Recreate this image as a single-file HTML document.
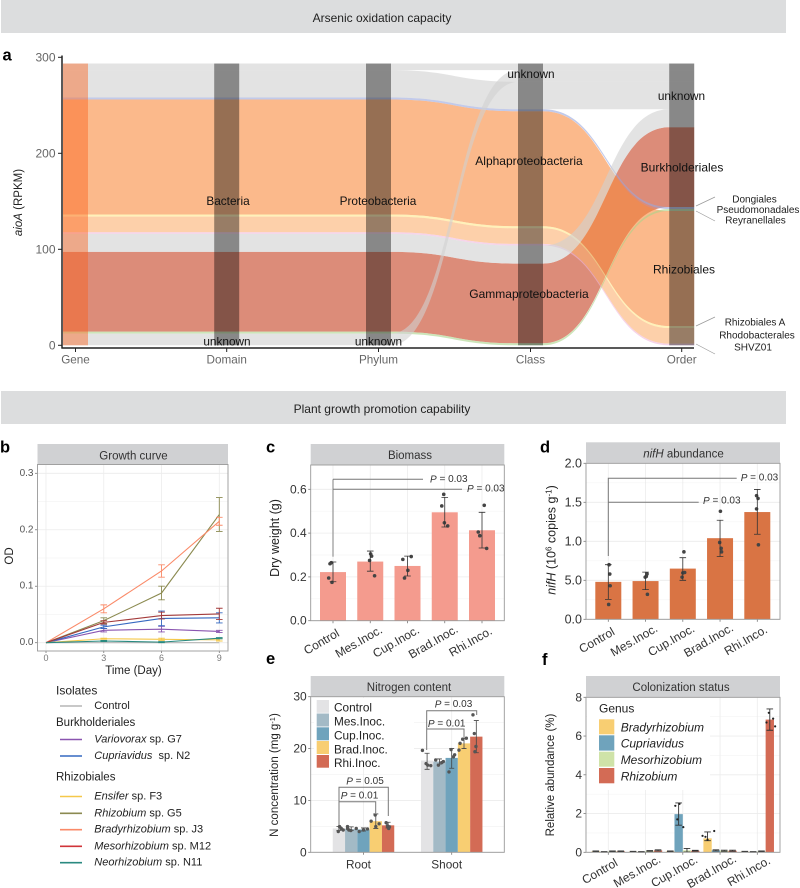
<!DOCTYPE html>
<html lang="en">
<head>
<meta charset="utf-8">
<title>Arsenic oxidation and plant growth promotion</title>
<style>
html,body{margin:0;padding:0;background:#fff;width:800px;height:888px;overflow:hidden}
svg{display:block;font-family:"Liberation Sans",sans-serif}
text{dominant-baseline:central;fill:#222;font-size:11.5px}
.ptxt{font-size:10px;fill:#333}
.leg{font-size:11px;fill:#222}
.legh{font-size:11.5px;fill:#222}
.strip{font-size:11.5px;fill:#333;text-anchor:middle}
.lab{font-size:16.5px;font-weight:bold;fill:#000;dominant-baseline:auto}
.bl{stroke:#777;stroke-width:1;fill:none}
.sk{text-anchor:middle;font-size:11.8px;fill:#111}
.skb{text-anchor:middle;font-size:12px;fill:#111}
.skr{text-anchor:middle;font-size:10px;fill:#222}
i,.it{font-style:italic}
</style>
</head>
<body>
<svg id="fig" xmlns="http://www.w3.org/2000/svg" width="800" height="888" viewBox="0 0 800 888">
  <rect x="0" y="0" width="800" height="888" fill="#fff"/>

  <g>
    <rect x="1" y="0" width="785" height="33" fill="#dcddde"/>
    <text x="382" y="18" text-anchor="middle" style="font-size:12px">Arsenic oxidation capacity</text>
  </g>
  <g>
    <rect x="1" y="391" width="785" height="33" fill="#dcddde"/>
    <text x="382" y="409" text-anchor="middle" style="font-size:12px">Plant growth promotion capability</text>
  </g>

  <text class="lab" x="2.5" y="60.5">a</text>
  <text class="lab" x="0" y="452.5">b</text>
  <text class="lab" x="266" y="452.5">c</text>
  <text class="lab" x="540" y="452.5">d</text>
  <text class="lab" x="266" y="664">e</text>
  <text class="lab" x="542" y="665">f</text>

  <!-- Panel a -->
  <g id="a-flows"></g>
  <g id="a-strata"></g>
  <g id="a-axes"></g>
  <text x="19" y="202.5" text-anchor="middle" transform="rotate(-90 19 202.5)" fill="#333"><tspan class="it">aioA</tspan> (RPKM)</text>
  <g>
    <text class="sk" x="228" y="201">Bacteria</text>
    <text class="sk" x="378" y="201">Proteobacteria</text>
    <text class="sk" x="227" y="341.5">unknown</text>
    <text class="sk" x="378.5" y="341.5">unknown</text>
    <text class="sk" x="531" y="74">unknown</text>
    <text class="sk" x="681.5" y="96">unknown</text>
    <text class="skb" x="529" y="161">Alphaproteobacteria</text>
    <text class="skb" x="529" y="294">Gammaproteobacteria</text>
    <text class="skb" x="682" y="167.5">Burkholderiales</text>
    <text class="skb" x="684" y="269.5">Rhizobiales</text>
    <text class="skr" x="754.5" y="200">Dongiales</text>
    <text class="skr" x="758" y="210.5">Pseudomonadales</text>
    <text class="skr" x="755.5" y="221">Reyranellales</text>
    <text class="skr" x="755" y="323">Rhizobiales A</text>
    <text class="skr" x="757" y="336">Rhodobacterales</text>
    <text class="skr" x="753" y="348">SHVZ01</text>
    <path d="M696 206L715 197M696 211L715 221M696 326L715 317M696 344L715 354" stroke="#999" stroke-width=".7" fill="none"/>
  </g>

  <!-- Panel b -->
  <g id="b-panel"></g>
  <text class="strip" x="133.5" y="456.5">Growth curve</text>
  <text x="10" y="556" text-anchor="middle" transform="rotate(-90 10 556)">OD</text>
  <text x="133.5" y="671" text-anchor="middle">Time (Day)</text>
  <g>
    <text class="legh" x="56" y="690.5" style="font-size:12px">Isolates</text>
    <line x1="60" x2="82" y1="706" y2="706" stroke="#b5b5b5" stroke-width="1.6"/>
    <text class="leg" x="94.3" y="706">Control</text>
    <text class="legh" x="56" y="723">Burkholderiales</text>
    <line x1="60" x2="82" y1="739.5" y2="739.5" stroke="#8a55b0" stroke-width="1.6"/>
    <text class="leg" x="94.3" y="739.5"><tspan class="it">Variovorax</tspan> sp. G7</text>
    <line x1="60" x2="82" y1="756" y2="756" stroke="#3568c0" stroke-width="1.6"/>
    <text class="leg" x="94.3" y="756"><tspan class="it">Cupriavidus</tspan>&#160; sp. N2</text>
    <text class="legh" x="56" y="777.5">Rhizobiales</text>
    <line x1="60" x2="82" y1="796.5" y2="796.5" stroke="#f5c84a" stroke-width="1.6"/>
    <text class="leg" x="94.3" y="796.5"><tspan class="it">Ensifer</tspan> sp. F3</text>
    <line x1="60" x2="82" y1="813.3" y2="813.3" stroke="#8b8a50" stroke-width="1.6"/>
    <text class="leg" x="94.3" y="813.3"><tspan class="it">Rhizobium</tspan> sp. G5</text>
    <line x1="60" x2="82" y1="829.7" y2="829.7" stroke="#fa8a68" stroke-width="1.6"/>
    <text class="leg" x="94.3" y="829.7"><tspan class="it">Bradyrhizobium</tspan> sp. J3</text>
    <line x1="60" x2="82" y1="846.3" y2="846.3" stroke="#d0343a" stroke-width="1.6"/>
    <text class="leg" x="94.3" y="846.3"><tspan class="it">Mesorhizobium</tspan> sp. M12</text>
    <line x1="60" x2="82" y1="862.7" y2="862.7" stroke="#2a8a80" stroke-width="1.6"/>
    <text class="leg" x="94.3" y="862.7"><tspan class="it">Neorhizobium</tspan> sp. N11</text>
  </g>

  <!-- Panel c -->
  <g id="c-panel"></g>
  <text class="strip" x="410" y="456">Biomass</text>
  <text x="275" y="538" text-anchor="middle" transform="rotate(-90 275 538)" style="font-size:12.5px">Dry weight (g)</text>
  <g>
    <path d="M333 556.7V479.3" stroke="#aaa" stroke-width="1.5" fill="none"/>
    <path class="bl" d="M333 479.3H423M333 489.3H462"/>
    <text class="ptxt" x="430" y="479.5"><tspan class="it">P</tspan> = 0.03</text>
    <text class="ptxt" x="467" y="489"><tspan class="it">P</tspan> = 0.03</text>
  </g>

  <!-- Panel d -->
  <g id="d-panel"></g>
  <text class="strip" x="683.5" y="454.7"><tspan class="it">nifH</tspan> abundance</text>
  <text x="551.5" y="540" text-anchor="middle" transform="rotate(-90 551.5 540)" style="font-size:12.5px"><tspan class="it">nifH</tspan> (10<tspan dy="-3" style="font-size:8px">6</tspan><tspan dy="3"> copies g</tspan><tspan dy="-3" style="font-size:8px">-1</tspan><tspan dy="3">)</tspan></text>
  <g>
    <path class="bl" d="M608.3 556V478.3H736.7M608.3 502.3H698.7"/>
    <text class="ptxt" x="740.7" y="478"><tspan class="it">P</tspan> = 0.03</text>
    <text class="ptxt" x="703" y="501"><tspan class="it">P</tspan> = 0.03</text>
  </g>

  <!-- Panel e -->
  <g id="e-panel"></g>
  <text class="strip" x="409" y="688">Nitrogen content</text>
  <text x="275" y="775" text-anchor="middle" transform="rotate(-90 275 775)">N concentration (mg g<tspan dy="-3" style="font-size:7.5px">-1</tspan><tspan dy="3">)</tspan></text>
  <g>
    <rect x="314" y="698" width="100" height="68" fill="#fff"/>
    <rect x="316.7" y="700" width="12.3" height="12.8" fill="#e3e3e5"/>
    <rect x="316.7" y="713.5" width="12.3" height="13" fill="#a3bac6"/>
    <rect x="316.7" y="727.3" width="12.3" height="13" fill="#6fa3bc"/>
    <rect x="316.7" y="741" width="12.3" height="13" fill="#f8ce72"/>
    <rect x="316.7" y="755" width="12.3" height="12.7" fill="#d36b55"/>
    <text x="334" y="707.7" style="font-size:11.8px">Control</text>
    <text x="334" y="721.7" style="font-size:11.8px">Mes.Inoc.</text>
    <text x="334" y="735.7" style="font-size:11.8px">Cup.Inoc.</text>
    <text x="334" y="749.3" style="font-size:11.8px">Brad.Inoc.</text>
    <text x="334" y="763" style="font-size:11.8px">Rhi.Inoc.</text>
  </g>
  <g>
    <path class="bl" d="M339 825V787.3H388.3V816M339 801.7H375.7V813"/>
    <path class="bl" d="M426.7 750V710.7H476.7V715M426.7 729H464V737.3"/>
    <text class="ptxt" x="365" y="781.7" text-anchor="middle"><tspan class="it">P</tspan> = 0.05</text>
    <text class="ptxt" x="359.5" y="796" text-anchor="middle"><tspan class="it">P</tspan> = 0.01</text>
    <text class="ptxt" x="453.5" y="704.3" text-anchor="middle"><tspan class="it">P</tspan> = 0.03</text>
    <text class="ptxt" x="446.7" y="724" text-anchor="middle"><tspan class="it">P</tspan> = 0.01</text>
  </g>

  <!-- Panel f -->
  <g id="f-panel"></g>
  <text class="strip" x="681" y="688">Colonization status</text>
  <text x="551" y="775" text-anchor="middle" transform="rotate(-90 551 775)">Relative abundance (%)</text>
  <g>
    <text x="599" y="708.3" style="font-size:12px">Genus</text>
    <rect x="599" y="719.3" width="15.3" height="15" fill="#f8ce72"/>
    <rect x="599" y="735.3" width="15.3" height="15.3" fill="#6fa3bc"/>
    <rect x="599" y="751.7" width="15.3" height="15" fill="#cfe3a8"/>
    <rect x="599" y="768" width="15.3" height="15.3" fill="#d36b55"/>
    <text x="620.7" y="727.3" class="it" style="font-size:12px">Bradyrhizobium</text>
    <text x="620.7" y="743.7" class="it" style="font-size:12px">Cupriavidus</text>
    <text x="620.7" y="760" class="it" style="font-size:12px">Mesorhizobium</text>
    <text x="620.7" y="776.3" class="it" style="font-size:12px">Rhizobium</text>
  </g>
</svg>

<script>
/* ---------- Panel a data ---------- */
const flowNames = ['unknown-top','unknown-mid','dongiales','rhizobiales','rhizobiales-a','rhodobacterales','shvz01','grey-unknown','burkholderiales','pseudomonadales','grey-bottom'];
const flowValues = [6.9,28.5,2.1,119.8,2.1,16.3,1.7,18.8,83,2.1,12.2];
const flowColors = ['#d0d0d0','#d0d0d0','#9aa6dc','#f98b3d','#ffe88a','#fcb171','#f0b8dc','#d0d0d0','#c5401f','#aad48a','#d0d0d0'];
const flowDrawOrder = [8,3,0,1,2,4,5,6,7,9,10];
const axisNames = ['Gene','Domain','Phylum','Class','Order'];
const axisOrderDefault = [0,1,2,3,4,5,6,7,8,9,10];
const axisOrderClass = [0,10,1,2,3,4,5,6,7,8,9];
const axisOrderOrder = [0,10,1,7,8,2,9,3,4,5,6];
const aTicks = [0,100,200,300];

/* ---------- Panel b data ---------- */
const bDays = [0,3,6,9];
const bYTicks = [0,0.1,0.2,0.3];
const bYTickLabels = ['0.0','0.1','0.2','0.3'];
const bSeriesNames = ['control','variovorax','cupriavidus','ensifer','rhizobium','bradyrhizobium','mesorhizobium','neorhizobium'];
const bColors = ['#b5b5b5','#8a55b0','#3568c0','#f5c84a','#8b8a50','#fa8a68','#a33a3a','#2a8a80'];
const bControl = [0,0,0,0];
const bVariovorax = [0,0.022,0.024,0.020];
const bCupriavidus = [0,0.028,0.043,0.044];
const bEnsifer = [0,0.007,0.006,0.005];
const bRhizobium = [0,0.039,0.088,0.227];
const bBradyrhizobium = [0,0.060,0.127,0.215];
const bMesorhizobium = [0,0.036,0.048,0.051];
const bNeorhizobium = [0,0.003,0.001,0.008];
const bValues = [bControl,bVariovorax,bCupriavidus,bEnsifer,bRhizobium,bBradyrhizobium,bMesorhizobium,bNeorhizobium];
const bErrControl = [0,0,0,0];
const bErrVariovorax = [0,0.003,0.005,0.002];
const bErrCupriavidus = [0,0.003,0.013,0.009];
const bErrEnsifer = [0,0.001,0.002,0.002];
const bErrRhizobium = [0,0.005,0.012,0.030];
const bErrBradyrhizobium = [0,0.007,0.011,0.007];
const bErrMesorhizobium = [0,0.003,0.006,0.010];
const bErrNeorhizobium = [0,0.001,0.001,0.001];
const bErrors = [bErrControl,bErrVariovorax,bErrCupriavidus,bErrEnsifer,bErrRhizobium,bErrBradyrhizobium,bErrMesorhizobium,bErrNeorhizobium];

/* ---------- Shared categories ---------- */
const inocCategories = ['Control','Mes.Inoc.','Cup.Inoc.','Brad.Inoc.','Rhi.Inco.'];

/* ---------- Panel c data ---------- */
const cYTicks = [0,0.2,0.4,0.6];
const cYTickLabels = ['0.0','0.2','0.4','0.6'];
const cValues = [0.222,0.27,0.25,0.495,0.413];
const cErrLow = [0.178,0.226,0.204,0.428,0.332];
const cErrHigh = [0.268,0.318,0.295,0.563,0.495];
const cPoints = [[0.26,0.265,0.195,0.175],[0.305,0.295,0.275,0.205],[0.28,0.293,0.23,0.195],[0.577,0.524,0.447,0.433],[0.527,0.405,0.388,0.33]];
const cJitter = [[-0.08,-0.045,-0.115,-0.027],[0.01,0.036,-0.018,0.116],[-0.125,0.1,0.01,-0.08],[-0.027,-0.08,-0.01,0.08],[0.06,-0.1,-0.06,0.125]];

/* ---------- Panel d data ---------- */
const dYTicks = [0,0.5,1,1.5,2];
const dYTickLabels = ['0.0','5.0','1.0','1.5','2.0'];
const dValues = [0.48,0.49,0.65,1.04,1.375];
const dErrLow = [0.255,0.38,0.50,0.805,1.09];
const dErrHigh = [0.70,0.605,0.79,1.27,1.665];
const dPoints = [[0.70,0.58,0.43,0.19],[0.58,0.55,0.54,0.32],[0.865,0.60,0.595,0.54],[1.385,0.985,0.91,0.865],[1.585,1.55,1.415,0.955]];
const dJitter = [[0.02,0.04,0.05,0.01],[0.04,0.02,-0.01,0.05],[0.03,0.05,0,-0.02],[0.01,-0.01,0.03,0.04],[-0.02,0.02,-0.02,0.03]];

/* ---------- Panel e data ---------- */
const eYTicks = [0,10,20,30];
const eTissues = ['Root','Shoot'];
const eTreatments = ['control','mes','cup','brad','rhi'];
const eColors = ['#e3e3e5','#a3bac6','#6fa3bc','#f8ce72','#d36b55'];
const eRootValues = [4.6,4.5,4.4,6.0,5.2];
const eShootValues = [17.7,17.5,18.2,21.0,22.3];
const eRootLow = [4.2,4.2,4.1,4.6,4.7];
const eRootHigh = [5.0,4.9,4.7,7.4,5.8];
const eShootLow = [16.0,17.0,16.2,20.0,19.2];
const eShootHigh = [19.1,18.0,20.0,22.0,25.4];
const eRootPoints = [[4.0,4.95,4.6,4.3],[4.95,4.3,4.2,4.6],[4.6,4.0,4.3,4.5],[6.0,7.2,4.95,5.5],[5.7,5.1,4.6,4.9]];
const eShootPoints = [[19.65,17.1,16.8,16.7],[17.8,16.8,17.3,17.5],[15.5,19.8,18.4,18.8],[19.7,21,21.8,22],[26.5,22.9,20.4,19.4]];
const eRootJitter = [[-0.05,0.05,0.19,0.35],[-0.3,-0.19,-0.03,-0.3],[-0.59,-0.35,0,0.32],[-0.38,-0.05,0,0.27],[-0.16,-0.05,0.05,0.11]];
const eShootJitter = [[-0.38,-0.08,0.05,0.3],[-0.3,-0.08,0.19,0.32],[-0.22,-0.05,0.14,0.24],[-0.41,-0.32,-0.11,0.19],[-0.27,-0.16,-0.03,-0.11]];

/* ---------- Panel f data ---------- */
const fYTicks = [0,2,4,6,8];
const fGenera = ['bradyrhizobium','cupriavidus','mesorhizobium','rhizobium'];
const fColors = ['#f8ce72','#6fa3bc','#cfe3a8','#d36b55'];
const fBradyrhizobium = [0.05,0.03,0.05,0.72,0.03];
const fCupriavidus = [0.02,0.02,1.97,0.10,0.02];
const fMesorhizobium = [0.05,0.07,0.10,0.08,0.05];
const fRhizobium = [0.05,0.10,0.08,0.08,6.85];
const fValues = [fBradyrhizobium,fCupriavidus,fMesorhizobium,fRhizobium];
const fBradyrhizobiumHigh = [0.07,0.05,0.07,1.05,0.05];
const fCupriavidusHigh = [0.04,0.04,2.55,0.13,0.04];
const fMesorhizobiumHigh = [0.07,0.09,0.2,0.11,0.07];
const fRhizobiumHigh = [0.07,0.13,0.1,0.11,7.4];
const fHigh = [fBradyrhizobiumHigh,fCupriavidusHigh,fMesorhizobiumHigh,fRhizobiumHigh];
const fBradyrhizobiumLow = [0.03,0.01,0.03,0.6,0.01];
const fCupriavidusLow = [0,0,1.4,0.07,0];
const fMesorhizobiumLow = [0.03,0.05,0.02,0.05,0.03];
const fRhizobiumLow = [0.03,0.07,0.06,0.05,6.3];
const fLow = [fBradyrhizobiumLow,fCupriavidusLow,fMesorhizobiumLow,fRhizobiumLow];
const fCupPoints = [1.7,2.4,2.5,1.3];
const fCupJitter = [-0.16,-0.4,0.1,0.56];
const fBradPoints = [0.85,0.8,0.65,1.1];
const fBradJitter = [-0.6,-0.25,0,0.8];
const fRhiPoints = [7.2,6.7,6.9,6.5];
const fRhiJitter = [-0.12,-0.4,0.4,0.64];

/* ---------- helpers ---------- */
const NS = 'http://www.w3.org/2000/svg';
function mk(tag, attrs, parent) {
  const el = document.createElementNS(NS, tag);
  for (const k in attrs) el.setAttribute(k, attrs[k]);
  parent.appendChild(el);
  return el;
}
function strip(parent, x, y, w, h) {
  const el = mk('rect', {x:x, y:y, width:w, height:h, fill:'#d0d1d3'}, parent);
  
  
}
function yAxis(parent, ticks, labels, yFn, left, right, color, minor, labelSize) {
  ticks.forEach(function (t, i) {
    const g = mk('line', {x1:left, x2:right, y1:yFn(t), y2:yFn(t), stroke:'#ececec', 'stroke-width':0.8}, parent);
    
    
    if (i < ticks.length - 1 || minor) {
      const next = i < ticks.length - 1 ? ticks[i + 1] : t + (t - ticks[i - 1]);
      const my = yFn((t + next) / 2);
      if (my > yFn(ticks[ticks.length - 1]) - 8) {
        const m = mk('line', {x1:left, x2:right, y1:my, y2:my, stroke:'#f4f4f4', 'stroke-width':0.7}, parent);
        
        
      }
    }
    const k = mk('line', {x1:left - 2.5, x2:left, y1:yFn(t), y2:yFn(t), stroke:'#777', 'stroke-width':0.8}, parent);
    
    
    const tx = mk('text', {x:left - 4, y:yFn(t), 'text-anchor':'end', style:'fill:' + color + ';font-size:' + labelSize + 'px'}, parent);
    tx.textContent = labels[i];
    
    
  });
}
function frame(parent, x, y, w, h) {
  const el = mk('rect', {x:x, y:y, width:w, height:h, fill:'none', stroke:'#999', 'stroke-width':0.9}, parent);
  
  
}
function errBar(parent, x, yLow, yHigh, cap, color, sw, name) {
  const d = 'M' + x + ' ' + yLow + 'V' + yHigh + 'M' + (x - cap) + ' ' + yLow + 'H' + (x + cap) + 'M' + (x - cap) + ' ' + yHigh + 'H' + (x + cap);
  const el = mk('path', {d:d, stroke:color, 'stroke-width':sw, fill:'none'}, parent);
  
  
}
function barPanel(opts) {
  const p = document.getElementById(opts.id);
  strip(p, opts.left, opts.stripTop, opts.right - opts.left, opts.top - opts.stripTop);
  const yFn = opts.yFn;
  yAxis(p, opts.ticks, opts.labels, yFn, opts.left, opts.right, '#333', false, opts.tickSize);
  inocCategories.forEach(function (c, i) {
    const x = opts.xFn(i);
    const g = mk('line', {x1:x, x2:x, y1:opts.top, y2:opts.bottom, stroke:'#ececec', 'stroke-width':0.8}, p);
    
    
  });
  inocCategories.forEach(function (c, i) {
    const x = opts.xFn(i);
    const b = mk('rect', {x:x - 13, y:yFn(opts.values[i]), width:26, height:yFn(0) - yFn(opts.values[i]), fill:opts.color}, p);
    
    
    opts.points[i].forEach(function (v, j) {
      const dot = mk('circle', {cx:x + opts.jitter[i][j] * 37.3, cy:yFn(v), r:1.8, fill:'#444'}, p);
      
      
    });
    errBar(p, x, yFn(opts.low[i]), yFn(opts.high[i]), 3.3, '#333', 0.8, 'error-bar');
    const k = mk('line', {x1:x, x2:x, y1:opts.bottom, y2:opts.bottom + 2.5, stroke:'#777', 'stroke-width':0.8}, p);
    
    
    const lx = x - 11.5;
    const ly = opts.bottom + 21;
    const t = mk('text', {x:lx, y:ly, 'text-anchor':'middle', transform:'rotate(-30 ' + lx + ' ' + ly + ')', style:'fill:#333;font-size:12px'}, p);
    t.textContent = c;
    
    
  });
  frame(p, opts.left, opts.top, opts.right - opts.left, opts.bottom - opts.top);
}

/* ---------- Panel a ---------- */
(function () {
  const axisX = [75.5, 226.7, 378.5, 530.5, 681.7];
  const half = 12.5;
  const yA = function (v) { return 345.3 - v * 0.96; };
  const orders = [axisOrderDefault, axisOrderDefault, axisOrderDefault, axisOrderClass, axisOrderOrder];
  const total = flowValues.reduce(function (a, b) { return a + b; }, 0);
  const stacks = orders.map(function (ord) {
    const pos = [];
    let top = total;
    ord.forEach(function (f) { pos[f] = [top, top - flowValues[f]]; top -= flowValues[f]; });
    return pos;
  });
  const flowG = document.getElementById('a-flows');
  flowDrawOrder.forEach(function (f) {
    const name = flowNames[f];
    const last = axisX.length - 1;
    let d = 'M' + (axisX[0] - half) + ' ' + yA(stacks[0][f][0]);
    for (let i = 0; i <= last; i++) {
      const y = yA(stacks[i][f][0]);
      d += 'L' + (axisX[i] + half) + ' ' + y;
      if (i < last) {
        const x0 = axisX[i] + half, x1 = axisX[i + 1] - half, m = (x0 + x1) / 2;
        const yn = yA(stacks[i + 1][f][0]);
        d += 'C' + m + ' ' + y + ' ' + m + ' ' + yn + ' ' + x1 + ' ' + yn;
      }
    }
    d += 'L' + (axisX[last] + half) + ' ' + yA(stacks[last][f][1]);
    for (let i = last; i >= 0; i--) {
      const y = yA(stacks[i][f][1]);
      d += 'L' + (axisX[i] - half) + ' ' + y;
      if (i > 0) {
        const x0 = axisX[i] - half, x1 = axisX[i - 1] + half, m = (x0 + x1) / 2;
        const yn = yA(stacks[i - 1][f][1]);
        d += 'C' + m + ' ' + y + ' ' + m + ' ' + yn + ' ' + x1 + ' ' + yn;
      }
    }
    d += 'Z';
    const el = mk('path', {d:d, fill:flowColors[f], 'fill-opacity':0.6}, flowG);
    
    
  });
  const strataG = document.getElementById('a-strata');
  axisNames.forEach(function (name, i) {
    const el = mk('rect', {x:axisX[i] - half, y:yA(total), width:half * 2, height:yA(0) - yA(total),
      fill:i === 0 ? '#fa5f19' : '#000', 'fill-opacity':i === 0 ? 0.44 : 0.4}, strataG);
    
    
  });
  const ax = document.getElementById('a-axes');
  const yl = mk('line', {x1:62, x2:62, y1:55.5, y2:348.5, stroke:'#222', 'stroke-width':1.5}, ax);
  
  
  const xl = mk('line', {x1:61.5, x2:694, y1:348, y2:348, stroke:'#222', 'stroke-width':1.5}, ax);
  
  
  aTicks.forEach(function (t) {
    const k = mk('line', {x1:58, x2:62, y1:yA(t), y2:yA(t), stroke:'#222', 'stroke-width':1}, ax);
    
    
    const tx = mk('text', {x:55.5, y:yA(t), 'text-anchor':'end', style:'fill:#666;font-size:12px'}, ax);
    tx.textContent = String(t);
    
    
  });
  axisNames.forEach(function (name, i) {
    const k = mk('line', {x1:axisX[i], x2:axisX[i], y1:348, y2:352, stroke:'#222', 'stroke-width':1}, ax);
    
    
    const tx = mk('text', {x:axisX[i], y:360, 'text-anchor':'middle', style:'fill:#666;font-size:11.7px'}, ax);
    tx.textContent = name;
    
    
  });
})();

/* ---------- Panel b ---------- */
(function () {
  const p = document.getElementById('b-panel');
  const left = 37.5, right = 228, top = 464.5, bottom = 651;
  const xB = function (d) { return 46 + d * (219.3 - 46) / 9; };
  const yB = function (v) { return 642.7 - v * (642.7 - 473.3) / 0.3; };
  strip(p, left, 444, right - left, top - 444);
  yAxis(p, bYTicks, bYTickLabels, yB, left, right, '#555', false, 10);
  bDays.forEach(function (d) {
    const g = mk('line', {x1:xB(d), x2:xB(d), y1:top, y2:bottom, stroke:'#ececec', 'stroke-width':0.8}, p);
    
    
    const k = mk('line', {x1:xB(d), x2:xB(d), y1:bottom, y2:bottom + 2, stroke:'#777', 'stroke-width':0.8}, p);
    
    
    const t = mk('text', {x:xB(d), y:658, 'text-anchor':'middle', style:'fill:#777;font-size:9px'}, p);
    t.textContent = String(d);
    
    
  });
  frame(p, left, top, right - left, bottom - top);
  bSeriesNames.forEach(function (name, s) {
    bDays.forEach(function (d, i) {
      if (bErrors[s][i] > 0) {
        errBar(p, xB(d), yB(bValues[s][i] - bErrors[s][i]), yB(bValues[s][i] + bErrors[s][i]), 3.3, bColors[s], 0.9, 'error-bar-' + name);
      }
    });
    const pts = bDays.map(function (d, i) { return xB(d) + ',' + yB(bValues[s][i]); }).join(' ');
    const l = mk('polyline', {points:pts, fill:'none', stroke:bColors[s], 'stroke-width':1.1}, p);
    
    
  });
})();

/* ---------- Panels c and d ---------- */
(function () {
  barPanel({
    id:'c-panel', left:310.7, right:504.3, stripTop:444, top:465, bottom:620.7, tickSize:12,
    xFn:function (i) { return 333 + i * 37.25; },
    yFn:function (v) { return 620.7 - v * (620.7 - 489.3) / 0.6; },
    ticks:cYTicks, labels:cYTickLabels, values:cValues, low:cErrLow, high:cErrHigh,
    points:cPoints, jitter:cJitter, color:'#f49b8e'
  });
  barPanel({
    id:'d-panel', left:586, right:780, stripTop:442.3, top:463.3, bottom:619.3, tickSize:12.5,
    xFn:function (i) { return 608.3 + i * 37.25; },
    yFn:function (v) { return 619.3 - v * (619.3 - 463.3) / 2; },
    ticks:dYTicks, labels:dYTickLabels, values:dValues, low:dErrLow, high:dErrHigh,
    points:dPoints, jitter:dJitter, color:'#d97444'
  });
})();

/* ---------- Panel e ---------- */
(function () {
  const p = document.getElementById('e-panel');
  const left = 310.7, right = 504.3, top = 696.7, bottom = 852.3, barW = 12.3;
  const yE = function (v) { return 852.3 - v * (852.3 - 696.7) / 30; };
  const xE = function (g) { return 363.5 + g * 88.2; };
  strip(p, left, 676, right - left, top - 676);
  yAxis(p, eYTicks, eYTicks.map(String), yE, left, right, '#333', false, 12);
  const vals = [eRootValues, eShootValues];
  const lows = [eRootLow, eShootLow];
  const highs = [eRootHigh, eShootHigh];
  const pts = [eRootPoints, eShootPoints];
  const jit = [eRootJitter, eShootJitter];
  eTissues.forEach(function (tissue, g) {
    const cx = xE(g);
    const gl = mk('line', {x1:cx, x2:cx, y1:top, y2:bottom, stroke:'#ececec', 'stroke-width':0.8}, p);
    
    
    eTreatments.forEach(function (tr, i) {
      const x = cx + (i - 2) * barW;
      const b = mk('rect', {x:x - barW / 2, y:yE(vals[g][i]), width:barW, height:yE(0) - yE(vals[g][i]), fill:eColors[i]}, p);
      
      
    });
    eTreatments.forEach(function (tr, i) {
      const x = cx + (i - 2) * barW;
      errBar(p, x, yE(lows[g][i]), yE(highs[g][i]), 2.5, '#444', 0.8, 'error-bar');
      pts[g][i].forEach(function (v, j) {
        const dot = mk('circle', {cx:x + jit[g][i][j] * barW, cy:yE(v), r:1.7, fill:'#555'}, p);
        
        
      });
    });
    const k = mk('line', {x1:cx, x2:cx, y1:bottom, y2:bottom + 2.5, stroke:'#777', 'stroke-width':0.8}, p);
    
    
    const t = mk('text', {x:cx - 5, y:864.7, 'text-anchor':'middle', style:'fill:#333;font-size:11.8px'}, p);
    t.textContent = tissue;
    
    
  });
  frame(p, left, top, right - left, bottom - top);
})();

/* ---------- Panel f ---------- */
(function () {
  const p = document.getElementById('f-panel');
  const left = 586, right = 780, top = 697.3, bottom = 852.3, barW = 8.33;
  const yF = function (v) { return 852.3 - v * (852.3 - 697.3) / 8; };
  const xF = function (i) { return 608.3 + i * 37.25; };
  strip(p, left, 676, right - left, top - 676);
  yAxis(p, fYTicks, fYTicks.map(String), yF, left, right, '#333', false, 12);
  inocCategories.forEach(function (c, i) {
    const gl = mk('line', {x1:xF(i), x2:xF(i), y1:top, y2:bottom, stroke:'#ececec', 'stroke-width':0.8}, p);
    
    
  });
  const bg = mk('rect', {x:587, y:698, width:123, height:92, fill:'#fff'}, p);
  
  
  inocCategories.forEach(function (c, i) {
    fGenera.forEach(function (gname, g) {
      const x = xF(i) + (g - 1.5) * barW;
      const b = mk('rect', {x:x - barW / 2, y:yF(fValues[g][i]), width:barW, height:yF(0) - yF(fValues[g][i]), fill:fColors[g]}, p);
      
      
      errBar(p, x, yF(fLow[g][i]), yF(fHigh[g][i]), 3.3, '#333', 0.9, 'error-bar');
    });
    const k = mk('line', {x1:xF(i), x2:xF(i), y1:bottom, y2:bottom + 2.5, stroke:'#777', 'stroke-width':0.8}, p);
    
    
    const lx = xF(i) - 8.5;
    const ly = bottom + 19;
    const t = mk('text', {x:lx, y:ly, 'text-anchor':'middle', transform:'rotate(-30 ' + lx + ' ' + ly + ')', style:'fill:#333;font-size:12px'}, p);
    t.textContent = c;
    
    
  });
  function dots(catIdx, genusIdx, vals, jit) {
    vals.forEach(function (v, j) {
      const x = xF(catIdx) + (genusIdx - 1.5) * barW + jit[j] * barW;
      const d = mk('circle', {cx:x, cy:yF(v), r:1.1, fill:'#222'}, p);
      
      
    });
  }
  dots(2, 1, fCupPoints, fCupJitter);
  dots(3, 0, fBradPoints, fBradJitter);
  dots(4, 3, fRhiPoints, fRhiJitter);
  frame(p, left, top, right - left, bottom - top);
})();
</script>
</body>
</html>
